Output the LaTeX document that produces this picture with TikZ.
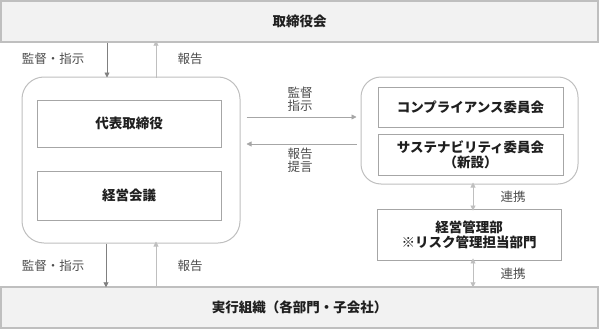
\documentclass[tikz,border=0pt]{standalone}
\usepackage{fontspec}
\setmainfont{Noto Sans CJK JP}
\usepackage{xcolor}
\usetikzlibrary{arrows.meta}
\definecolor{panelgray}{HTML}{F2F2F2}
\definecolor{linegray}{HTML}{BFBFBF}
\definecolor{boxgray}{HTML}{A6A6A6}
\definecolor{darkarrow}{HTML}{808080}
\definecolor{textgray}{HTML}{1F1F1F}
\definecolor{labelgray}{HTML}{4D4D4D}

\begin{document}
\begin{tikzpicture}[x=1pt, y=-1pt,
    panel/.style={draw=linegray, line width=1.4pt, fill=panelgray, minimum width=597pt,
      minimum height=41pt, font=\bfseries\fontsize{13.5}{15}\selectfont, text=textgray},
    group/.style={draw=linegray, line width=1pt, rounded corners=22pt},
    unit/.style={draw=boxgray, line width=0.9pt, fill=white, align=center,
      font=\bfseries\fontsize{13.5}{15}\selectfont, text=textgray},
    tag/.style={font=\fontsize{12.5}{13}\selectfont, text=labelgray, align=center},
    tip/.style={-{Triangle[width=5pt,length=5pt]}, line width=0.8pt},
    both/.style={{Triangle[width=5pt,length=5pt]}-{Triangle[width=5pt,length=5pt]}, line width=0.8pt}]
  \useasboundingbox (0,0) rectangle (599,329);

  % top and bottom bands
  \node[panel] (board) at (299.5,21.5) {取締役会};
  \node[panel] (exec) at (299.5,307.5) {実行組織（各部門・子会社）};

  % executive side
  \node[group, minimum width=218pt, minimum height=166pt] (mgmt) at (131,160) {};
  \node[unit, minimum width=184pt, minimum height=47pt] (ceo) at (129,123.5) {代表取締役};
  \node[unit, minimum width=184pt, minimum height=49pt] (meeting) at (129,195.5) {経営会議};

  % committees
  \node[group, minimum width=217pt, minimum height=107pt, rounded corners=20pt] (comm) at (469.5,130.5) {};
  \node[unit, minimum width=185pt, minimum height=40pt] (comp) at (470.5,107) {コンプライアンス委員会};
  \node[unit, minimum width=185pt, minimum height=41pt] (sust) at (470.5,154.5) {サステナビリティ委員会\\（新設）};
  \node[unit, minimum width=184pt, minimum height=51pt] (dept) at (469,234.5) {経営管理部\\※リスク管理担当部門};

  % board <-> management
  \draw[tip, darkarrow] (107,0 |- board.south) -- ([yshift=-1pt]107,0 |- mgmt.north);
  \draw[tip, linegray] ([yshift=-1pt]156,0 |- mgmt.north) -- ([yshift=2pt]156,0 |- board.south);
  \node[tag] (l1) at (53,59) {監督・指示};
  \node[tag] (l2) at (190,59) {報告};

  % management <-> execution
  \draw[tip, darkarrow] (106,0 |- mgmt.south) -- ([yshift=-1pt]106,0 |- exec.north);
  \draw[tip, linegray] ([yshift=-1pt]156,0 |- exec.north) -- ([yshift=2pt]156,0 |- mgmt.south);
  \node[tag] (l3) at (53,266) {監督・指示};
  \node[tag] (l4) at (190,266) {報告};

  % management <-> committees
  \draw[tip, boxgray] ([xshift=6pt]mgmt.east |- 0,117) -- ([xshift=-4pt]comm.west |- 0,117);
  \draw[tip, boxgray] ([xshift=-4pt]comm.west |- 0,144) -- ([xshift=6pt]mgmt.east |- 0,144);
  \node[tag] (l5) at (300,99) {監督\\指示};
  \node[tag] (l6) at (300,160) {報告\\提言};

  % cooperation
  \draw[both, linegray] ([yshift=2pt]473,0 |- comm.south) -- ([yshift=-2pt]473,0 |- dept.north);
  \draw[both, linegray] ([yshift=2pt]473,0 |- dept.south) -- ([yshift=-1pt]473,0 |- exec.north);
  \node[tag] (l7) at (513,197) {連携};
  \node[tag] (l8) at (513,274) {連携};
\end{tikzpicture}
\end{document}
